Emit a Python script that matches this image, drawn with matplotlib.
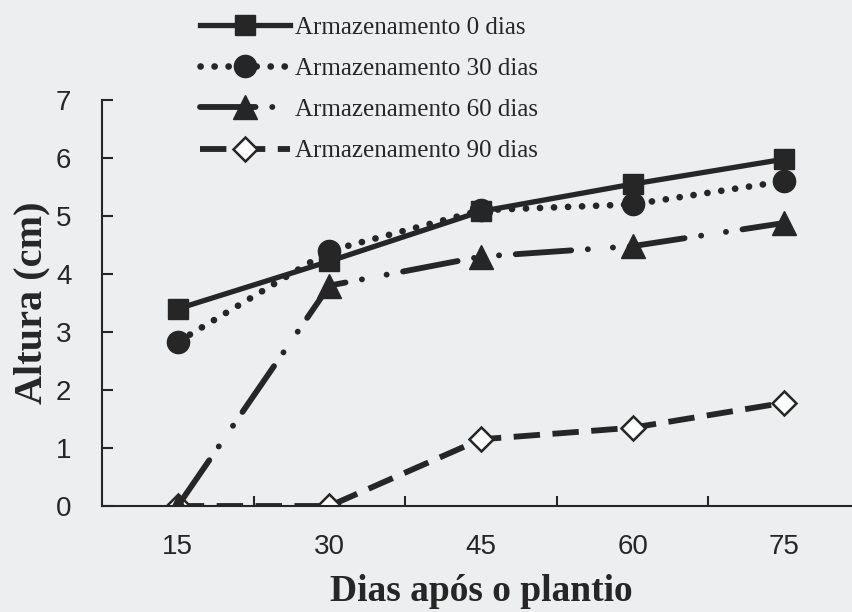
import matplotlib
matplotlib.use("Agg")
import matplotlib.pyplot as plt
from matplotlib.ticker import FixedLocator

# ------------------------------------------------------------
# Data (altura das plantas, cm)
# ------------------------------------------------------------
dias = ["15", "30", "45", "60", "75"]
arm_0 = [3.4, 4.22, 5.08, 5.55, 5.98]
arm_30 = [2.83, 4.4, 5.1, 5.2, 5.6]
arm_60 = [0.0, 3.8, 4.3, 4.48, 4.88]
arm_90 = [0.0, 0.0, 1.15, 1.35, 1.78]
labels = ["Armazenamento 0 dias", "Armazenamento 30 dias",
          "Armazenamento 60 dias", "Armazenamento 90 dias"]

plt.rcParams["lines.scale_dashes"] = False
ink = "#262626"
paper = "#eceef0"

fig = plt.figure(figsize=(8.52, 6.12), dpi=100, facecolor=paper)
# axes runs past the right edge, like the cropped original
ax = fig.add_axes([102 / 852, 106 / 612, 758 / 852, 406 / 612])
ax.set_facecolor(paper)

x = list(range(len(dias)))

ax.plot(x, arm_90, color=ink, lw=4.2, linestyle=(0, (19, 9)),
        marker="D", ms=12, mfc="white", mec=ink, mew=1.8, label=labels[3])
ax.plot(x, arm_60, color=ink, lw=4.2, linestyle=(0, (40, 12, 0.1, 18, 0.1, 12)),
        dash_capstyle="round", marker="^", ms=17, mfc=ink, mec=ink, label=labels[2])
ax.plot(x, arm_30, color=ink, lw=4.8, linestyle=(0, (0.1, 10)),
        dash_capstyle="round", marker="o", ms=16, mfc=ink, mec=ink, label=labels[1])
ax.plot(x, arm_0, color=ink, lw=3.8, marker="s", ms=15, mfc=ink, mec=ink,
        label=labels[0])

ax.set_xlim(-0.5, len(dias) - 0.5)
ax.set_ylim(0, 7)
ax.set_xticks(x)
ax.set_xticklabels(dias)
ax.xaxis.set_minor_locator(FixedLocator([i + 0.5 for i in range(len(dias) - 1)]))
ax.tick_params(axis="x", which="major", length=0, pad=20)
ax.tick_params(axis="x", which="minor", direction="in", length=7, width=1.5, color=ink)
ax.set_yticks(range(0, 8))
ax.tick_params(axis="y", direction="in", length=8, width=1.5, color=ink, pad=22)
for lab in ax.get_xticklabels() + ax.get_yticklabels():
    lab.set_fontfamily("Liberation Sans")
    lab.set_fontsize(20)
    lab.set_color(ink)

for side in ("top", "right"):
    ax.spines[side].set_visible(False)
for side in ("left", "bottom"):
    ax.spines[side].set_linewidth(1.5)
    ax.spines[side].set_color(ink)

ax.set_ylabel("Altura (cm)", fontfamily="Liberation Serif", fontweight="bold",
              fontsize=29, color=ink, labelpad=4)
ax.set_xlabel("Dias após o plantio", fontfamily="Liberation Serif", fontweight="bold",
              fontsize=27, color=ink, labelpad=10)

handles, labs = ax.get_legend_handles_labels()
leg = fig.legend(handles[::-1], labs[::-1], loc="upper left",
                 bbox_to_anchor=(200 / 852, 1 - 16 / 612), frameon=False,
                 prop={"family": "Liberation Serif", "size": 18},
                 handlelength=3.6, handletextpad=0.2, labelspacing=0.75,
                 borderpad=0, borderaxespad=0, numpoints=1)
for t in leg.get_texts():
    t.set_color(ink)

fig.savefig("out.png", dpi=100, facecolor=paper)
